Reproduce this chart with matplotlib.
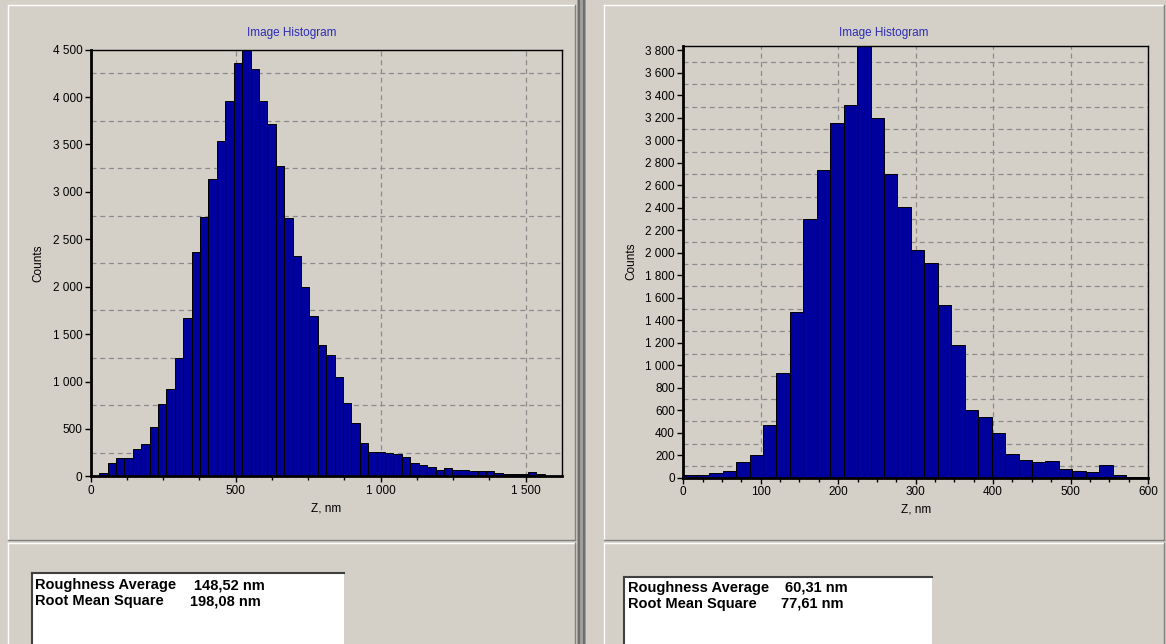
import numpy as np
import matplotlib.pyplot as plt
from matplotlib.patches import Rectangle
from matplotlib.lines import Line2D
from matplotlib.ticker import MultipleLocator, FuncFormatter

plt.rcParams['font.family'] = ['Liberation Sans', 'DejaVu Sans']

W, H = 1166, 644

# left sample: 56 bins of 29 nm starting at 0
left_bin_start = 0.0
left_bin_width = 29.0
left_counts = [8, 35, 142, 195, 197, 284, 344, 518, 759, 922,
               1248, 1668, 2369, 2732, 3132, 3539, 3958, 4355, 4560, 4292,
               3958, 3715, 3276, 2721, 2327, 1996, 1690, 1386, 1280, 1051,
               777, 566, 349, 262, 258, 245, 240, 205, 145, 120,
               96, 68, 85, 70, 65, 62, 60, 55, 32, 22,
               22, 22, 50, 22, 5, 5]

# right sample: 35 bins of 17.36 nm
right_bin_start = -1.2
right_bin_width = 17.36
right_counts = [22, 25, 38, 62, 135, 200, 470, 930, 1472, 2298,
                2737, 3158, 3315, 3900, 3203, 2701, 2405, 2025, 1906, 1533,
                1178, 605, 537, 394, 205, 152, 137, 150, 72, 57,
                45, 113, 20, 8, 3]

left_stats = [("Roughness Average", "148,52 nm"), ("Root Mean Square", "198,08 nm")]
right_stats = [("Roughness Average", "60,31 nm"), ("Root Mean Square", "77,61 nm")]

BG = '#d4d0c8'
BAR = '#00009c'
GRID = '#8c8c8c'
TITLE = '#2b2bb8'

fig = plt.figure(figsize=(W / 100, H / 100), dpi=100, facecolor=BG)

# pixel canvas for the window frames and text boxes
bg = fig.add_axes([0, 0, 1, 1], zorder=0)
bg.set_xlim(0, W)
bg.set_ylim(H, 0)
bg.axis('off')


def hline(x0, x1, y, color, lw=1):
    bg.add_line(Line2D([x0, x1], [y, y], color=color, lw=lw))


def vline(x, y0, y1, color, lw=1):
    bg.add_line(Line2D([x, x], [y0, y1], color=color, lw=lw))


def raised(x0, y0, x1, y1):
    hline(x0, x1, y0, 'white')
    vline(x0, y0, y1, 'white')
    hline(x0, x1, y1, '#808080')
    vline(x1, y0, y1, '#808080')


# window panels
raised(8, 5, 575, 540)
raised(8, 543, 575, 650)
raised(604, 5, 1164, 540)
raised(604, 543, 1164, 650)
bg.add_patch(Rectangle((577, 0), 9, H, facecolor='#a0a0a0', edgecolor='none'))
vline(579, 0, H, '#6e6e6e', 1.5)
vline(584, 0, H, '#6e6e6e', 1.5)


def px_box(x0, y0, x1, y1):
    return [x0 / W, 1 - y1 / H, (x1 - x0) / W, (y1 - y0) / H]


def thousands(v, pos):
    return '{:,}'.format(int(round(v))).replace(',', ' ')


def histogram(rect, start, width, counts, ymax, xmax, ymajor, xmajor, xminor,
              title_x, box, stats, name_x, value_x, line_y):
    ax = fig.add_axes(px_box(*rect), zorder=2)
    ax.set_facecolor(BG)
    edges = start + width * np.arange(len(counts))
    ax.bar(edges, counts, width=width, align='edge', color=BAR,
           edgecolor='black', linewidth=0.7, zorder=3)
    ax.set_xlim(0, xmax)
    ax.set_ylim(0, ymax)
    ax.yaxis.set_major_locator(MultipleLocator(ymajor))
    ax.yaxis.set_minor_locator(MultipleLocator(ymajor / 2))
    ax.xaxis.set_major_locator(MultipleLocator(xmajor))
    ax.xaxis.set_minor_locator(MultipleLocator(xminor))
    ax.yaxis.set_major_formatter(FuncFormatter(thousands))
    ax.xaxis.set_major_formatter(FuncFormatter(thousands))
    ax.tick_params(which='major', direction='out', length=4, width=1,
                   labelsize=8.5, pad=2, color='black')
    ax.tick_params(axis='x', which='minor', direction='out', length=3, width=1)
    ax.tick_params(axis='y', which='minor', length=0)
    ax.grid(True, axis='x', which='major', color=GRID, lw=0.9,
            linestyle=(0, (4, 3)), zorder=1)
    ax.grid(True, axis='y', which='minor', color=GRID, lw=0.9,
            linestyle=(0, (4, 3)), zorder=1)
    ax.set_axisbelow(True)
    for side, lw in (('left', 2), ('bottom', 2), ('top', 1), ('right', 1)):
        ax.spines[side].set_linewidth(lw)
        ax.spines[side].set_color('black')
        ax.spines[side].set_zorder(4)
    ax.set_xlabel('Z, nm', fontsize=8.5, labelpad=4)
    ax.set_ylabel('Counts', fontsize=8.5, labelpad=6)
    fig.text(title_x / W, 1 - 33 / H, 'Image Histogram', color=TITLE,
             fontsize=8.5, ha='center', va='center')

    # statistics box
    x0, y0, x1, y1 = box
    bg.add_patch(Rectangle((x0, y0), x1 - x0, y1 - y0, facecolor='white',
                           edgecolor='none'))
    hline(x0, x1, y0, '#404040', 1.5)
    vline(x0, y0, y1, '#404040', 1.5)
    for (name, val), vx, y in zip(stats, value_x, line_y):
        bg.text(name_x, y, name, fontsize=10.5, fontweight='bold', va='center')
        bg.text(vx, y, val, fontsize=10.5, fontweight='bold', va='center')
    return ax


histogram((90.7, 49.6, 561.7, 476.4), left_bin_start, left_bin_width,
          left_counts, 4500, 1624, 500, 500, 125,
          292, (32, 573, 344, 660), left_stats, 35, (194, 190), (585, 601))
histogram((683.3, 46, 1148, 477.5), right_bin_start, right_bin_width,
          right_counts, 3840, 600, 200, 100, 25,
          884, (624, 577, 932, 660), right_stats, 628, (785, 781), (588, 604))

fig.savefig('out.png', dpi=100, facecolor=BG)
